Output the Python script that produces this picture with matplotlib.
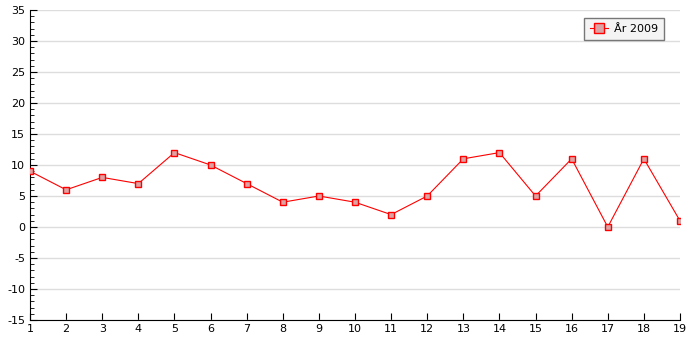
import matplotlib
matplotlib.use("Agg")
import matplotlib.pyplot as plt
from matplotlib.ticker import MultipleLocator

plt.rcParams["axes.unicode_minus"] = False

x = list(range(1, 20))
values = [9, 6, 8, 7, 12, 10, 7, 4, 5, 4, 2, 5, 11, 12, 5, 11, 0, 11, 1]
label = "År 2009"

fig = plt.figure(figsize=(7, 3.5), dpi=100)
ax = fig.add_axes([30/700, 30/350, 650/700, 310/350])
ax.plot(x, values, color="red", lw=0.8, marker="s", ms=5, mfc="#dba3a3", mec="red", mew=1.0, label=label, zorder=3)
ax.set_xlim(1, 19)
ax.set_ylim(-15, 35)
ax.set_xticks(x)
ax.yaxis.set_major_locator(MultipleLocator(5))
ax.yaxis.set_minor_locator(MultipleLocator(1))
ax.grid(axis="y", color="#dddddd", lw=1)
ax.set_axisbelow(True)
for s in ["top", "right"]:
    ax.spines[s].set_visible(False)
ax.tick_params(axis="both", which="major", direction="in", length=5, labelsize=8)
ax.tick_params(axis="y", which="minor", direction="in", length=3)
ax.tick_params(axis="x", which="major", pad=3)
leg = ax.legend(loc="upper right", bbox_to_anchor=(634/650, 302/310), borderaxespad=0,
                fontsize=8, frameon=True, fancybox=False, handlelength=1.6, handletextpad=0.5,
                borderpad=0.55, markerscale=1.4)
leg.get_frame().set_facecolor("#f4f4f4")
leg.get_frame().set_edgecolor("#777777")
leg.get_frame().set_alpha(1)
fig.savefig("out.png", dpi=100)
